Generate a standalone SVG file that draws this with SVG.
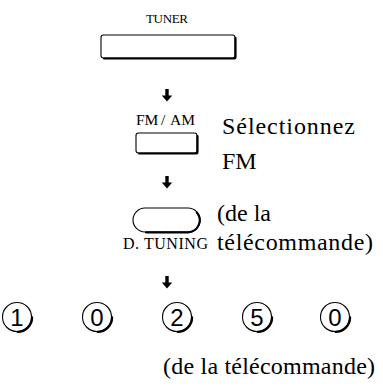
<svg xmlns="http://www.w3.org/2000/svg" width="383" height="389" viewBox="0 0 383 389">
<defs>
<style>
.lbl{font-family:"Liberation Serif","Times New Roman",serif;fill:#000}
.small{font-size:13px}
.big{font-size:24px}
.num{font-family:"Liberation Sans",Arial,sans-serif;font-size:24px;fill:#000}
.out{fill:#fff;stroke:#000;stroke-width:1.1}
.sh{fill:none;stroke:#000;stroke-width:2.2;stroke-linecap:round}
</style>
<path id="arr" d="M-1.7,0 H1.7 V6.5 H5.2 L0,12.5 L-5.2,6.5 H-1.7 Z" fill="#000"/>
</defs>
<g id="tuner">
<text class="lbl small" x="146" y="23" textLength="42">TUNER</text>
<rect class="out" x="101" y="35" width="134" height="23" rx="2.5"/>
<path class="sh" d="M235.5,38 V57 Q235.5,58.5 233.5,58.5 H104"/>
</g>
<g id="fmam">
<text class="lbl" style="font-size:15.5px" y="125"><tspan x="136">FM</tspan><tspan x="161">/</tspan><tspan x="170">AM</tspan></text>
<rect class="out" x="136" y="133" width="61" height="20" rx="2.5"/>
<path class="sh" d="M197.5,136 V152 Q197.5,153.5 195.5,153.5 H139"/>
<text class="lbl big" x="222" y="134" textLength="133">Sélectionnez</text>
<text class="lbl big" x="222" y="169">FM</text>
</g>
<g id="dtuning">
<rect class="out" x="133" y="208" width="67" height="24" rx="12"/>
<path class="sh" d="M196.8,212.5 A12,12 0 0 1 188,232.3 H146"/>
<text class="lbl" x="123" y="249" textLength="85" style="font-size:16px">D. TUNING</text>
<text class="lbl big" x="217" y="221">(de la</text>
<text class="lbl big" x="217" y="250" textLength="156">télécommande)</text>
</g>
<g id="digits">
<g id="d1"><circle class="out" cx="17" cy="317" r="14.5"/><path class="sh" d="M31.5,317 A14.5,14.5 0 0 1 17,331.5" transform="translate(0.6,0.4)"/><text class="num" x="17" y="325.5" text-anchor="middle">1</text></g>
<g id="d2"><circle class="out" cx="97" cy="317" r="14.5"/><path class="sh" d="M111.5,317 A14.5,14.5 0 0 1 97,331.5" transform="translate(0.6,0.4)"/><text class="num" x="97" y="325.5" text-anchor="middle">0</text></g>
<g id="d3"><circle class="out" cx="177" cy="317" r="14.5"/><path class="sh" d="M191.5,317 A14.5,14.5 0 0 1 177,331.5" transform="translate(0.6,0.4)"/><text class="num" x="177" y="325.5" text-anchor="middle">2</text></g>
<g id="d4"><circle class="out" cx="257" cy="317" r="14.5"/><path class="sh" d="M271.5,317 A14.5,14.5 0 0 1 257,331.5" transform="translate(0.6,0.4)"/><text class="num" x="257" y="325.5" text-anchor="middle">5</text></g>
<g id="d5"><circle class="out" cx="335" cy="317" r="14.5"/><path class="sh" d="M349.5,317 A14.5,14.5 0 0 1 335,331.5" transform="translate(0.6,0.4)"/><text class="num" x="335" y="325.5" text-anchor="middle">0</text></g>
<text class="lbl big" x="163" y="374" textLength="212">(de la télécommande)</text>
</g>
<g id="connectors">
<use href="#arr" x="167" y="89"/>
<use href="#arr" x="167" y="176"/>
<use href="#arr" x="167" y="276"/>
</g>
</svg>
